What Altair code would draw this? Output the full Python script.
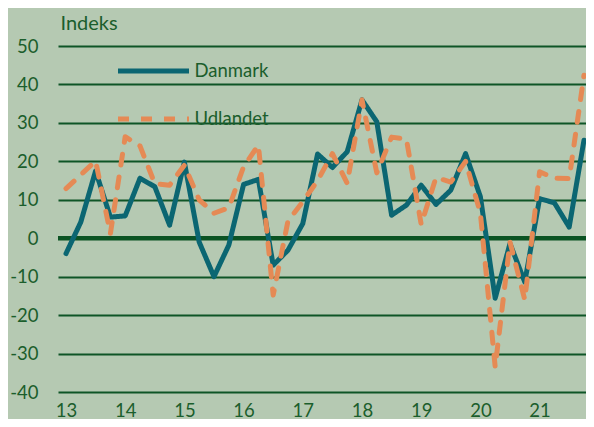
import altair as alt
import pandas as pd

# Quarterly observations 2013K1 .. 2021K4
quarters = [f"{y}K{q}" for y in range(2013, 2022) for q in range(1, 5)]
danmark = [-4, 4.2, 17.5, 5.5, 5.8, 15.6, 13.4, 3.4, 19.8, -1, -10, -1.8,
           14, 15.3, -7, -3.1, 3.8, 21.9, 18.4, 22.5, 36, 30.3, 6, 8.6,
           13.8, 8.8, 12.5, 22, 10.8, -15.6, -1.4, -11.4, 10.3, 9.2, 2.9, 25.5]
udlandet = [12.9, 16.5, 20.1, 1.2, 26.4, 24, 14.2, 13.8, 19, 10, 6.5, 7.9,
            18.6, 24.2, -14.8, 4.5, 9.5, 15, 22, 14.3, 36, 17, 26.3, 25.8,
            3.6, 15.8, 14.6, 20, 6.5, -33.5, -1, -16, 17.3, 15.6, 15.5, 42.4]
series_names = ["Danmark", "Udlandet"]
series_colors = ["#0b6672", "#e58a55"]
x_tick_years = [2013, 2014, 2015, 2016, 2017, 2018, 2019, 2020, 2021]
x_tick_labels = ["13", "14", "15", "16", "17", "18", "19", "20", "21"]
y_ticks = [-40, -30, -20, -10, 0, 10, 20, 30, 40, 50]
y_title = "Indeks"

def qpos(label):
    y, q = label.split("K")
    return int(y) + (int(q) - 1) / 4

rows = []
for name, vals in zip(series_names, [danmark, udlandet]):
    for q, v in zip(quarters, vals):
        rows.append({"t": qpos(q), "value": v, "series": name})
df = pd.DataFrame(rows)

label_map = "{" + ",".join(f"'{y}':'{l}'" for y, l in zip(x_tick_years, x_tick_labels)) + "}"

TXT = "#1b5e2c"
GRID = "#0e5526"
FONT = "Lato"

x_scale = alt.Scale(domain=[2012.865, 2021.784], nice=False, zero=False)
x_axis = alt.Axis(values=x_tick_years, labelExpr=f"{label_map}[toString(datum.value)]",
                  grid=False, domain=False, ticks=False, labelPadding=9,
                  title=None, labelFlush=False)
y_scale = alt.Scale(domain=[-40, 50], nice=False, zero=False)
y_axis = alt.Axis(values=y_ticks, grid=True, domain=False, ticks=False,
                  labelPadding=20, labelOverlap=False,
                  labelExpr="toString(datum.value)",
                  title=y_title, titleAngle=0, titleX=2, titleY=-17,
                  titleAlign="left", titleBaseline="alphabetic",
                  titleFont=FONT, titleFontSize=20, titleFontWeight="normal",
                  titleColor=TXT)

legend = alt.Legend(title=None, orient="none", legendX=57.5, legendY=-13,
                    symbolType="stroke", symbolSize=5041,
                    symbolStrokeWidth=5, labelOffset=3, rowPadding=-23,
                    padding=0, labelFontSize=18.5, labelFont=FONT,
                    labelColor=TXT)

lines = alt.Chart(df).mark_line(strokeWidth=5, strokeCap="round", strokeJoin="round").encode(
    x=alt.X("t:Q", scale=x_scale, axis=x_axis),
    y=alt.Y("value:Q", scale=y_scale, axis=y_axis),
    color=alt.Color("series:N", scale=alt.Scale(domain=series_names, range=series_colors),
                    legend=legend),
    strokeDash=alt.StrokeDash("series:N",
                              scale=alt.Scale(domain=series_names, range=[[1, 0], [11, 12]]),
                              legend=legend),
)

zero = alt.Chart(pd.DataFrame({"y": [0]})).mark_rule(color="#0b5323", strokeWidth=4.5).encode(
    y=alt.Y("y:Q", scale=y_scale, axis=y_axis))

chart = alt.layer(zero, lines).properties(
    width=528, height=346,
    autosize=alt.AutoSizeParams(type="none"),
    padding={"left": 50, "top": 38, "right": 0, "bottom": 27},
    background="#b5c9b2",
).configure_view(stroke=None).configure_axis(
    labelFont=FONT, labelFontSize=18.5, labelColor=TXT,
    gridColor=GRID, gridWidth=2.2, gridOpacity=1,
)

chart.save("out.html", embed_options={"renderer": "svg", "actions": False})
